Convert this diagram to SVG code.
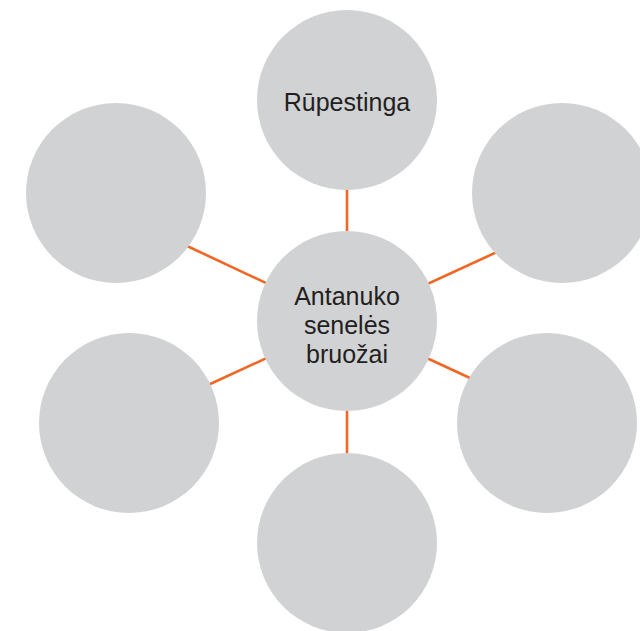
<svg xmlns="http://www.w3.org/2000/svg" width="640" height="631" viewBox="0 0 640 631">
<style>
.n{fill:#D1D2D4}
.c{stroke:#F26522;stroke-width:2.6;fill:none}
.t{font-family:"Liberation Sans",Arial,sans-serif;font-size:25px;fill:#231F20;text-anchor:middle}
</style>
<rect width="640" height="631" fill="#fff"/>
<g id="connectors">
<line class="c" x1="347" y1="321" x2="347" y2="120"/>
<line class="c" x1="347" y1="321" x2="347" y2="520"/>
<line class="c" x1="347" y1="321" x2="170" y2="238"/>
<line class="c" x1="347" y1="321" x2="510" y2="246"/>
<line class="c" x1="347" y1="321" x2="195" y2="391"/>
<line class="c" x1="347" y1="321" x2="485" y2="385"/>
</g>
<g id="node-top"><circle class="n" cx="347" cy="100" r="90"/><text class="t" x="347" y="111">Rūpestinga</text></g>
<g id="node-center"><circle class="n" cx="347" cy="321" r="90"/>
<text class="t" x="347" y="305">Antanuko</text>
<text class="t" x="347" y="334">senelės</text>
<text class="t" x="347" y="363">bruožai</text></g>
<g id="node-left-top"><circle class="n" cx="116" cy="193" r="90"/></g>
<g id="node-right-top"><circle class="n" cx="562" cy="193" r="90"/></g>
<g id="node-left-bottom"><circle class="n" cx="129" cy="423" r="90"/></g>
<g id="node-right-bottom"><circle class="n" cx="547" cy="423" r="90"/></g>
<g id="node-bottom"><circle class="n" cx="347" cy="543" r="90"/></g>
</svg>
